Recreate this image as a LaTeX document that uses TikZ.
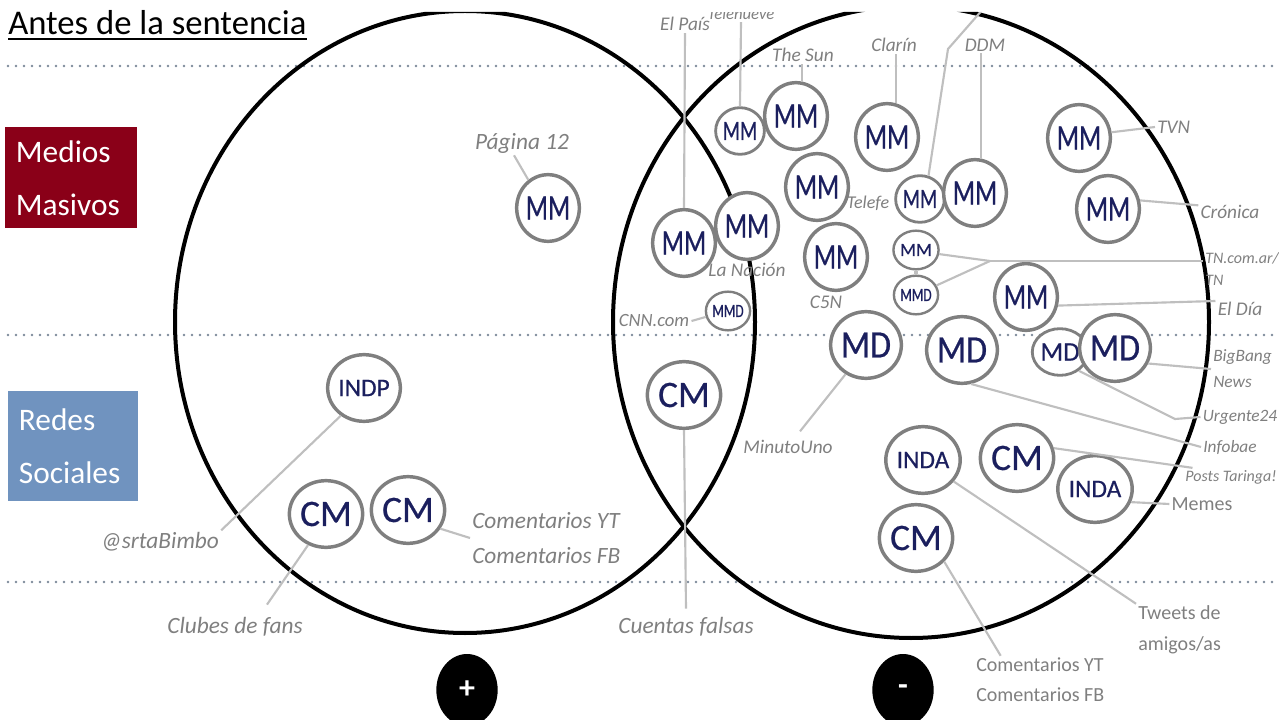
\documentclass[tikz,border=0pt]{standalone}
\usepackage{fontspec}
\setmainfont{Carlito}
\newfontfamily\mmfont[FakeStretch=0.72, FakeBold=0.6]{Carlito}
\newfontfamily\mdfont[FakeStretch=0.88, FakeBold=0.6]{Carlito}
\newfontfamily\bubfont[FakeBold=0.5]{Carlito}
\usetikzlibrary{positioning,shapes.geometric}
\definecolor{medred}{HTML}{8A0018}
\definecolor{socblue}{HTML}{7093BF}
\definecolor{navy}{HTML}{1B1F5E}
\definecolor{bubgrey}{HTML}{7F7F7F}
\definecolor{labgrey}{HTML}{7F7F7F}
\definecolor{congrey}{HTML}{BFBFBF}
\definecolor{dotgrey}{HTML}{7D8A99}
\newcommand{\fsz}[2]{\fontsize{#1}{#2}\selectfont}

\begin{document}
\begin{tikzpicture}[x=0.75pt, y=-0.75pt,
bubble/.style={ellipse, draw=bubgrey, fill=white, line width=2.6pt, inner sep=0pt, minimum width=43pt, minimum height=50pt, text=navy},
bubsmall/.style={bubble, line width=2.1pt, minimum width=31pt, minimum height=35pt},
bubtiny/.style={bubble, line width=1.8pt, minimum width=26pt, minimum height=29pt},
bubMM/.style={bubble, font=\mmfont\fsz{27}{27}},
bubMD/.style={bubble, font=\mdfont\fsz{29}{29}},
bubCM/.style={bubble, font=\bubfont\fsz{28}{28}},
bubIN/.style={bubble, font=\bubfont\fsz{19}{19}},
smallMM/.style={bubsmall, font=\mmfont\fsz{21}{21}},
smallMD/.style={bubsmall, font=\bubfont\fsz{20}{20}},
tinyMM/.style={bubtiny, font=\bubfont\fsz{14}{14}},
tinyMMD/.style={bubtiny, font=\mmfont\fsz{14}{14}},
lab/.style={text=labgrey, inner sep=1.5pt, align=left, font=\itshape\fsz{14.5}{17}},
labL/.style={lab, font=\itshape\fsz{17.5}{26}},
labS/.style={lab, font=\itshape\fsz{13}{19.5}},
upr/.style={lab, font=\fsz{15}{22.5}},
con/.style={draw=congrey, line width=1.6pt},
dotline/.style={dotgrey, line width=2.2pt, line cap=round, dash pattern=on 0pt off 6pt},
bigring/.style={black, line width=3pt},
signnode/.style={ellipse, fill=black, minimum width=46pt, minimum height=54pt, text=white, font=\bfseries\fsz{24}{24}},
medbox/.style={fill=medred, text=white, align=left, anchor=north west, minimum width=99pt, minimum height=75.75pt, text width=83pt, inner xsep=8pt, inner ysep=0pt, font=\fsz{23.5}{39.75}},
socbox/.style={medbox, fill=socblue, minimum width=97.5pt, minimum height=82.5pt, text width=81.5pt}
]
\useasboundingbox (0,0) rectangle (1279,720);
\clip (0,0) -- (320,0) -- (320,12) -- (1279,12) -- (1279,720) -- (0,720) -- cycle;

%Background
\draw[dotline] (8,66) -- (1279,66);
\draw[dotline] (8,335) -- (1279,335);
\draw[dotline] (8,582) -- (1279,582);
\draw[bigring] (465,322) ellipse [x radius=217.5pt, y radius=233.25pt];
\draw[bigring] (911,322) ellipse [x radius=223.5pt, y radius=237pt];

%Title and rows
\node[anchor=base west, inner sep=0pt, font=\fsz{26}{30}] (title) at (8,35) {Antes de la sentencia};
\draw[line width=1.3pt] ([yshift=-3pt]title.base west) -- ([yshift=-3pt]title.base east);
\node[medbox] (rowmm) at (5,127) {Medios\\Masivos};
\node[socbox] (rowrs) at (8,391) {Redes\\Sociales};

%Nodes
\node[bubMM]   (p12)   at (548,208)  {MM};
\node[bubIN]   (indp)  at (364,388)  {INDP};
\node[bubCM]   (cmfan) at (326,514)  {CM};
\node[bubCM]   (cmcom) at (408,510)  {CM};
\node[bubMM]   (elp)   at (684,243)  {MM};
\node[bubMM]   (nac)   at (747,226)  {MM};
\node[tinyMMD] (cnn)   at (728,311)  {MMD};
\node[bubCM]   (cmf)   at (684,395)  {CM};
\node[smallMM] (t9)    at (740,131)  {MM};
\node[bubMM]   (sun)   at (796,116)  {MM};
\node[bubMM]   (cla)   at (887,137)  {MM};
\node[bubMM]   (tel)   at (817,187)  {MM};
\node[smallMM] (tel2)  at (920,199)  {MM};
\node[bubMM]   (ddm)   at (975,193)  {MM};
\node[bubMM]   (tvn)   at (1079,138) {MM};
\node[bubMM]   (cro)   at (1108,209) {MM};
\node[bubMM]   (c5n)   at (836,257)  {MM};
\node[tinyMM]  (tn1)   at (916,250)  {MM};
\node[tinyMMD] (tn2)   at (916,295)  {MMD};
\node[bubMM]   (eld)   at (1026,297) {MM};
\node[bubMD]   (mdmu)  at (866,345)  {MD};
\node[bubMD]   (mdi)   at (962,350)  {MD};
\node[smallMD] (mdu)   at (1060,352) {MD};
\node[bubMD]   (mdb)   at (1115,348) {MD};
\node[bubIN]   (ind1)  at (923,460)  {INDA};
\node[bubCM]   (cmt)   at (1017,458) {CM};
\node[bubIN]   (ind2)  at (1095,489) {INDA};
\node[bubCM]   (cmc)   at (916,538)  {CM};
\node[signnode] (plus)  at (467,690) {+};
\node[signnode] (minus) at (903,690) {-};

%Labels
\node[labL] (lp12)   at (522,143) {Página 12};
\node[labL] (lbimbo) at (160,542) {@srtaBimbo};
\node[labL] (lfans)  at (235,627) {Clubes de fans};
\node[labL, anchor=west] (lcoml) at (470,538) {Comentarios YT\\Comentarios FB};
\node[labL] (lcf)    at (686,627) {Cuentas falsas};
\node[lab]  (lpais)  at (685,24)  {El País};
\node[lab, font=\itshape\fsz{14}{16}] (lcnn) at (654,321) {CNN.com};
\node[lab]  (lnac)   [below=0pt of nac] {La Nación};
\node[lab, font=\itshape\fsz{12.5}{15}] (lt9) at (741,14) {Telenueve};
\node[lab]  (lsun)   at (803,55)  {The Sun};
\node[lab]  (lcla)   at (894,45)  {Clarín};
\node[lab]  (lddm)   at (985,45)  {DDM};
\node[lab, font=\itshape\fsz{13.5}{16}] (ltel) at (868,203) {Telefe};
\node[lab]  (lc5n)   at (826,302) {C5N};
\node[lab, anchor=west] (ltvn) at (1155,127) {TVN};
\node[lab]  (lcro)   at (1230,212) {Crónica};
\node[labS, anchor=west, font=\itshape\fsz{12}{16}] (ltn) at (1203,269) {TN.com.ar/\\TN};
\node[lab]  (leld)   at (1240,309) {El Día};
\node[lab]  (lmu)    at (788,447) {MinutoUno};
\node[labS, anchor=west] (lbig) at (1211,369) {BigBang\\News};
\node[labS] (lurg)   at (1240,417) {Urgente24};
\node[labS] (linf)   at (1230,447) {Infobae};
\node[lab, font=\itshape\fsz{12}{14}] (lpt) at (1231,477) {Posts Taringa!};
\node[upr]  (lmem)   at (1202,504) {Memes};
\node[upr, anchor=west, font=\fsz{15}{23}] (ltw) at (1136,630) {Tweets de\\amigos/as};
\node[upr, anchor=west] (lcomr) at (974,680) {Comentarios YT\\Comentarios FB};

%Lines
\coordinate (tvbend)  at (948,49);
\coordinate (tvtop)   at (991,0);
\coordinate (tnjoin)  at (990,261);
\coordinate (urgbend) at (1175,419);
\draw[con] (p12.125) -- ([xshift=-6pt]lp12.south);
\draw[con] (indp.230) -- (lbimbo.north east);
\draw[con] (cmfan.240) -- ([xshift=24pt,yshift=8pt]lfans.north);
\draw[con] (cmcom.-30) -- (lcoml.west);
\draw[con] (elp.north) -- (lpais.south);
\draw[con] (cnn.195) -- (lcnn.east);
\draw[con] (cmf.south) -- ([yshift=5pt]lcf.north);
\draw[con] (t9.north) -- (lt9.south);
\draw[con] (sun.80) -- (sun.80 |- lsun.south);
\draw[con] (cla.75) -- (cla.75 |- lcla.south);
\draw[con] (tel2.70) -- (tvbend) -- (tvtop);
\draw[con] (ddm.80) -- (ddm.80 |- lddm.south);
\draw[con] (tvn.10) -- (ltvn.west);
\draw[con] (cro.15) -- ([yshift=5pt]lcro.west);
\draw[con] (tn1.-10) -- (tnjoin);
\draw[con] (tn2.25) -- (tnjoin);
\draw[con] (tnjoin) -- (tnjoin -| ltn.west);
\draw[con, line width=3pt] (tn1.south) -- (tn2.north);
\draw[con] (eld.-15) -- ([yshift=6pt]leld.west);
\draw[con] (mdmu.235) -- ([xshift=9pt,yshift=5pt]lmu.north);
\draw[con] (mdi.-75) -- (linf.west);
\draw[con] (mdu.-45) -- (urgbend) -- (lurg.west);
\draw[con] (mdb.-25) -- (lbig.west);
\draw[con] (ind1.-35) -- (ltw.north west);
\draw[con] (cmt.15) -- ([xshift=7pt]lpt.north west);
\draw[con] (ind2.-20) -- (lmem.west);
\draw[con] (cmc.-40) -- ([xshift=20pt]lcomr.north west);
\end{tikzpicture}
\end{document}
